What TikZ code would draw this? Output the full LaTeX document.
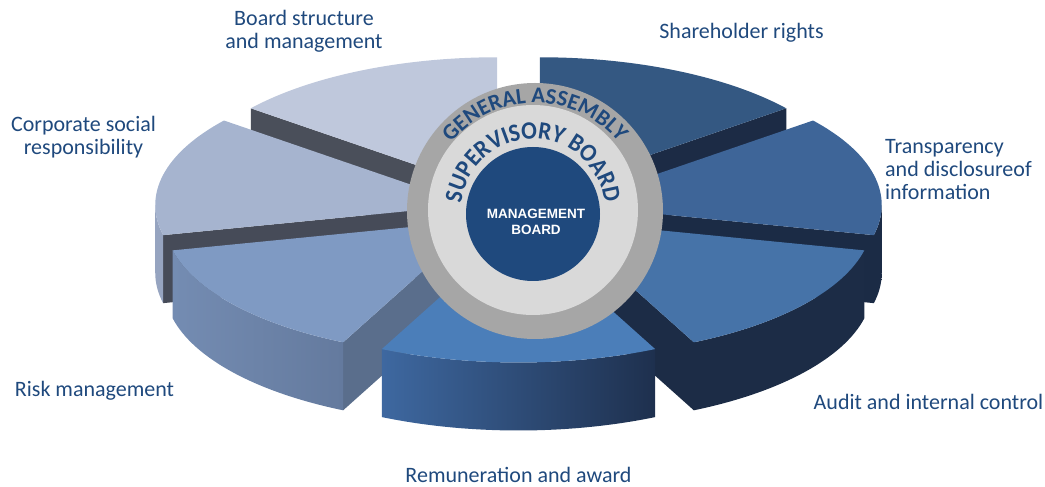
\documentclass[tikz,border=0pt]{standalone}
\usepackage{fontspec}
\setmainfont{Carlito}
\newfontfamily\boxfont{Liberation Sans}
\newfontfamily\ringfamily[FakeStretch=0.93]{Carlito}
\usetikzlibrary{decorations.text}

\definecolor{labelblue}{RGB}{31,73,125}
\definecolor{ringgray}{RGB}{166,166,166}
\definecolor{innergray}{RGB}{217,217,217}
\definecolor{coreblue}{RGB}{31,73,125}
% slice colours: top face, cut face, outer wall
\definecolor{boardtop}{RGB}{191,200,220}
\definecolor{boardside}{RGB}{74,79,90}
\definecolor{corptop}{RGB}{166,180,207}
\definecolor{corpside}{RGB}{70,75,88}
\definecolor{corpwall}{RGB}{150,164,192}
\definecolor{risktop}{RGB}{127,154,195}
\definecolor{riskside}{RGB}{90,110,140}
\definecolor{riskwallA}{RGB}{116,140,178}
\definecolor{riskwallB}{RGB}{100,122,158}
\definecolor{remtop}{RGB}{75,126,185}
\definecolor{remwallA}{RGB}{62,104,160}
\definecolor{remwallB}{RGB}{30,48,78}
\definecolor{audittop}{RGB}{70,115,168}
\definecolor{auditside}{RGB}{28,44,70}
\definecolor{transtop}{RGB}{62,101,152}
\definecolor{transside}{RGB}{27,43,69}
\definecolor{sharetop}{RGB}{52,88,130}
\definecolor{shareside}{RGB}{28,43,69}

\begin{document}
\begin{tikzpicture}[x=1pt,y=1pt,
	label/.style={inner sep=0pt, align=center, text=labelblue, font=\fontsize{22}{23}\selectfont},
	mgmt/.style={inner sep=0pt, align=center, text=white, font=\boxfont\bfseries\fontsize{13.5}{16}\selectfont}]
		\newcommand{\pierx}{315}
		\newcommand{\piery}{135.5}
		\newcommand{\piedepth}{68}
		\newcommand{\piedx}{49.5}
		\newcommand{\piedy}{18}
		\newcommand{\ringfont}{\fontsize{22.5}{22.5}\selectfont\bfseries\color{labelblue}}
		\newcommand{\ringfontbig}{\ringfamily\fontsize{25}{25}\selectfont\bfseries\color{labelblue}}
		%Top face of a slice: from, to, colour
		\newcommand{\pietop}[3]{
			\fill[#3] (0,0) -- ({\pierx*cos(#1)},{\piery*sin(#1)}) arc[start angle=#1, end angle=#2, x radius=\pierx, y radius=\piery] -- cycle;
		}
		%Cut face at one angle: angle, colour
		\newcommand{\pieside}[2]{
			\fill[#2] (0,0) -- ({\pierx*cos(#1)},{\piery*sin(#1)}) -- ++(0,-\piedepth) -- (0,-\piedepth) -- cycle;
		}
		%Outer wall: from, to, left colour, right colour
		\newcommand{\piewall}[4]{
			\shade[left color=#3, right color=#4] ({\pierx*cos(#1)},{\piery*sin(#1)}) arc[start angle=#1, end angle=#2, x radius=\pierx, y radius=\piery] -- ++(0,-\piedepth) arc[start angle=#2, end angle=#1, x radius=\pierx, y radius=\piery] -- cycle;
		}
		\useasboundingbox (0,0) rectangle (1045,487);
		%The pie, back slices first
		\begin{scope}[shift={(518.5,278)}]
			%Board structure
			\begin{scope}[shift={({\piedx*cos(115.71)},{\piedy*sin(115.71)})}]
				\pieside{141.43}{boardside}
				\pietop{90}{141.43}{boardtop}
			\end{scope}
			%Shareholder rights
			\begin{scope}[shift={({\piedx*cos(64.29)},{\piedy*sin(64.29)})}]
				\pieside{38.57}{shareside}
				\pietop{38.57}{90}{sharetop}
			\end{scope}
			%Corporate social responsibility
			\begin{scope}[shift={({\piedx*cos(167.14)},{\piedy*sin(167.14)})}]
				\pieside{192.86}{corpside}
				\piewall{180}{192.86}{corpwall}{corpwall}
				\pietop{141.43}{192.86}{corptop}
			\end{scope}
			%Transparency
			\begin{scope}[shift={({\piedx*cos(12.86)},{\piedy*sin(12.86)})}]
				\pieside{347.14}{transside}
				\piewall{347.14}{360}{transside}{transside}
				\pietop{347.14}{398.57}{transtop}
			\end{scope}
			%Risk management
			\begin{scope}[shift={({\piedx*cos(218.57)},{\piedy*sin(218.57)})}]
				\pieside{244.29}{riskside}
				\piewall{192.86}{244.29}{riskwallA}{riskwallB}
				\pietop{192.86}{244.29}{risktop}
			\end{scope}
			%Audit
			\begin{scope}[shift={({\piedx*cos(321.43)},{\piedy*sin(321.43)})}]
				\pieside{295.71}{auditside}
				\piewall{295.71}{347.14}{auditside}{auditside}
				\pietop{295.71}{347.14}{audittop}
			\end{scope}
			%Remuneration
			\begin{scope}[shift={(0,-\piedy)}]
				\piewall{244.29}{295.71}{remwallA}{remwallB}
				\pietop{244.29}{295.71}{remtop}
			\end{scope}
		\end{scope}
		%Rings in the middle
		\fill[ringgray] (535,276) circle[radius=128];
		\fill[innergray] (533,277) circle[radius=105];
		\fill[coreblue] (533,273) circle[radius=67];
		\path[decorate, decoration={text along path, text align=center, text={|\ringfont|GENERAL ASSEMBLY}}]
			(535,276) ++(180:108) arc[start angle=180, end angle=0, radius=108];
		\path[decorate, decoration={text along path, text align=center, text={|\ringfontbig|SUPERVISORY BOARD}}]
			(533,276) ++(180:72) arc[start angle=180, end angle=0, radius=72];
		\node[mgmt] (management) at (536,265) {MANAGEMENT\\BOARD};
		%Labels
		\node[label] (board) at (304,456) {Board structure\\and management};
		\node[label, anchor=base] (shareholder) at (741.5,448.7) {Shareholder rights};
		\node[label, align=left, anchor=west] (transparency) at (885,317) {Transparency\\and disclosureof\\information};
		\node[label] (corporate) at (83.5,350) {Corporate social\\responsibility};
		\node[label, anchor=base] (risk) at (94.5,90) {Risk management};
		\node[label, anchor=base] (audit) at (928.5,77) {Audit and internal control};
		\node[label, anchor=base] (remuneration) at (518.5,4) {Remuneration and award};
\end{tikzpicture}
\end{document}
